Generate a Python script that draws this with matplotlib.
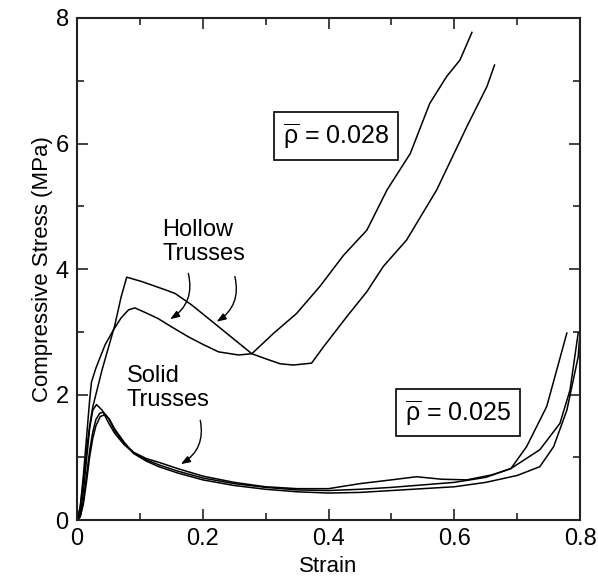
import numpy as np
from matplotlib import pyplot as plt

plt.rcParams['font.family'] = ['Liberation Sans', 'DejaVu Sans']
plt.rcParams['mathtext.fontset'] = 'custom'
plt.rcParams['mathtext.rm'] = 'Liberation Sans'
plt.rcParams['mathtext.it'] = 'Liberation Sans:italic'

# hollow trusses, rho = 0.028
hollow_a_x = [0, 0.005, 0.01, 0.015, 0.02, 0.025, 0.03, 0.04, 0.05, 0.06, 0.07, 0.079,
              0.103, 0.14, 0.156, 0.182, 0.219, 0.251, 0.278, 0.3, 0.323, 0.344, 0.373,
              0.392, 0.429, 0.461, 0.487, 0.524, 0.572, 0.62, 0.652, 0.664]
hollow_a_y = [0, 0.2, 0.6, 1.1, 1.5, 1.8, 2.0, 2.4, 2.75, 3.1, 3.55, 3.87,
              3.8, 3.67, 3.61, 3.43, 3.13, 2.87, 2.65, 2.57, 2.49, 2.47, 2.50,
              2.76, 3.24, 3.64, 4.04, 4.46, 5.26, 6.27, 6.91, 7.25]
hollow_b_x = [0, 0.005, 0.01, 0.015, 0.02, 0.023, 0.03, 0.037, 0.045, 0.058, 0.07, 0.082,
              0.092, 0.11, 0.129, 0.15, 0.177, 0.2, 0.225, 0.257, 0.278, 0.312, 0.349,
              0.386, 0.424, 0.461, 0.493, 0.53, 0.561, 0.588, 0.609, 0.628]
hollow_b_y = [0, 0.2, 0.7, 1.3, 1.9, 2.2, 2.42, 2.6, 2.8, 3.03, 3.22, 3.35,
              3.38, 3.3, 3.21, 3.08, 2.92, 2.8, 2.68, 2.63, 2.65, 2.97, 3.29,
              3.72, 4.22, 4.62, 5.26, 5.84, 6.64, 7.07, 7.33, 7.77]

# solid trusses, rho = 0.025
solid_1_x = [0, 0.005, 0.01, 0.015, 0.02, 0.025, 0.031, 0.04, 0.05, 0.06, 0.075, 0.09,
             0.11, 0.13, 0.16, 0.2, 0.25, 0.3, 0.35, 0.4, 0.45, 0.5, 0.55, 0.6, 0.65,
             0.69, 0.715, 0.747, 0.779]
solid_1_y = [0, 0.1, 0.45, 0.95, 1.45, 1.75, 1.84, 1.75, 1.55, 1.38, 1.2, 1.07,
             0.96, 0.88, 0.78, 0.67, 0.58, 0.52, 0.48, 0.47, 0.49, 0.52, 0.56, 0.6, 0.68,
             0.82, 1.17, 1.81, 2.98]
solid_2_x = [0, 0.005, 0.01, 0.015, 0.02, 0.025, 0.03, 0.036, 0.042, 0.05, 0.06, 0.075,
             0.09, 0.11, 0.13, 0.16, 0.2, 0.25, 0.3, 0.35, 0.4, 0.45, 0.5, 0.54, 0.58,
             0.62, 0.66, 0.69, 0.736, 0.768, 0.784, 0.797]
solid_2_y = [0, 0.05, 0.3, 0.7, 1.1, 1.4, 1.6, 1.7, 1.72, 1.62, 1.42, 1.22,
             1.08, 0.98, 0.92, 0.82, 0.7, 0.6, 0.53, 0.5, 0.5, 0.58, 0.64, 0.69, 0.65,
             0.64, 0.72, 0.82, 1.12, 1.54, 2.07, 2.98]
solid_3_x = [0, 0.005, 0.01, 0.015, 0.02, 0.025, 0.03, 0.037, 0.045, 0.052, 0.06, 0.075,
             0.09, 0.11, 0.13, 0.16, 0.2, 0.25, 0.3, 0.35, 0.4, 0.45, 0.5, 0.55, 0.6,
             0.65, 0.7, 0.736, 0.758, 0.779, 0.797, 0.8]
solid_3_y = [0, 0.05, 0.25, 0.6, 1.0, 1.3, 1.5, 1.65, 1.68, 1.6, 1.45, 1.24,
             1.06, 0.94, 0.85, 0.75, 0.64, 0.55, 0.49, 0.45, 0.43, 0.44, 0.47, 0.5, 0.53,
             0.6, 0.71, 0.85, 1.17, 1.75, 2.6, 3.0]

fig = plt.figure(figsize=(5.98, 5.88), dpi=100)
ax = fig.add_axes([0.1288, 0.1156, 0.8412, 0.8538])

for xs, ys in [(hollow_a_x, hollow_a_y), (hollow_b_x, hollow_b_y),
               (solid_1_x, solid_1_y), (solid_2_x, solid_2_y), (solid_3_x, solid_3_y)]:
    ax.plot(xs, ys, c='k', lw=1.1, solid_joinstyle='round')

ax.set_xlim(0, 0.8)
ax.set_ylim(0, 8)
ax.set_xticks([0, 0.2, 0.4, 0.6, 0.8])
ax.set_xticklabels(['0', '0.2', '0.4', '0.6', '0.8'])
ax.set_yticks([0, 2, 4, 6, 8])
ax.set_xticks(np.arange(0.1, 0.8, 0.2), minor=True)
ax.set_yticks([1, 3, 5, 7], minor=True)
ax.tick_params(which='both', direction='in', top=True, right=True, width=1.2,
               labelsize=17, pad=6, color='#222222')
ax.tick_params(which='major', length=8)
ax.tick_params(which='minor', length=5)
for s in ax.spines.values():
    s.set_linewidth(1.5)
    s.set_color('#222222')

ax.set_xlabel('Strain', fontsize=16, labelpad=4)
ax.set_ylabel('Compressive Stress (MPa)', fontsize=16, labelpad=2)

box = dict(boxstyle='square,pad=0.35', fc='white', ec='k', lw=1.2)
ax.text(0.412, 6.12, r'$\overline{\mathrm{\rho}}$ = 0.028', fontsize=18,
        ha='center', va='center', bbox=box)
ax.text(0.606, 1.71, r'$\overline{\mathrm{\rho}}$ = 0.025', fontsize=18,
        ha='center', va='center', bbox=box)

ax.text(0.136, 4.80, 'Hollow\nTrusses', fontsize=17, ha='left', va='top', linespacing=1.1)
ax.text(0.079, 2.47, 'Solid\nTrusses', fontsize=17, ha='left', va='top', linespacing=1.1)

arrow = dict(arrowstyle='-|>,head_length=0.55,head_width=0.2', color='k', lw=1.0,
             shrinkA=0, shrinkB=0)
ax.annotate('', xy=(0.148, 3.20), xytext=(0.177, 3.93),
            arrowprops=dict(arrow, connectionstyle='arc3,rad=-0.35'))
ax.annotate('', xy=(0.222, 3.16), xytext=(0.251, 3.88),
            arrowprops=dict(arrow, connectionstyle='arc3,rad=-0.35'))
ax.annotate('', xy=(0.165, 0.89), xytext=(0.196, 1.59),
            arrowprops=dict(arrow, connectionstyle='arc3,rad=-0.35'))

fig.savefig('out.png', dpi=100)
